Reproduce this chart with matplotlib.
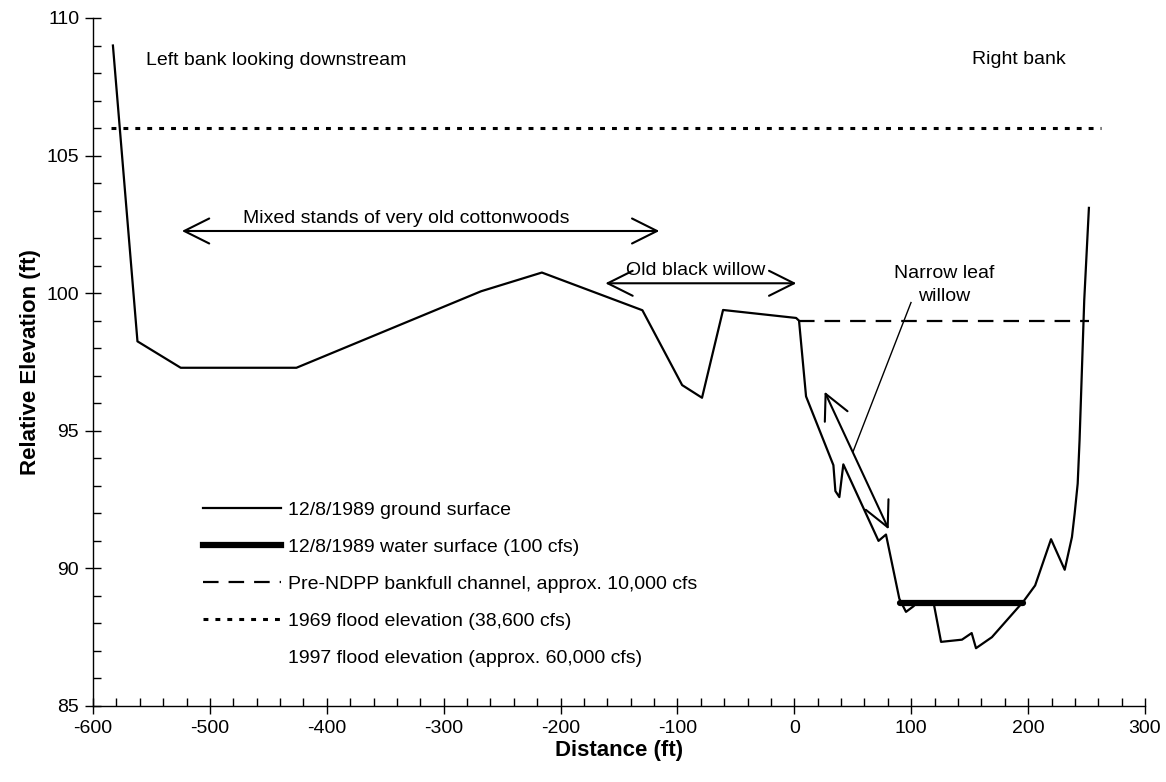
import matplotlib
matplotlib.use("Agg")
import matplotlib.pyplot as plt
from matplotlib.lines import Line2D
from matplotlib.ticker import MultipleLocator

plt.rcParams['font.family'] = ['Liberation Sans', 'DejaVu Sans']
plt.rcParams['axes.unicode_minus'] = False

# ground surface profile, 12/8/1989
dist = [-583, -562, -525, -426, -268, -216, -130, -96, -79, -61, 1.5, 4, 10,
        33.4, 35.1, 38.5, 41.9, 72, 78.4, 89.8, 95.5, 101.8, 106, 119, 125.5,
        143.4, 151.7, 155.4, 169, 196, 206, 219.6, 231.3, 237.5, 239.8, 242.4,
        244, 248, 252]
elev = [109, 98.25, 97.29, 97.29, 100.07, 100.75, 99.38, 96.66, 96.2, 99.39,
        99.1, 99.0, 96.25, 93.75, 92.81, 92.59, 93.78, 91.0, 91.23, 88.9, 88.42,
        88.62, 88.8, 88.78, 87.33, 87.41, 87.65, 87.1, 87.5, 88.8, 89.38, 91.06,
        89.95, 91.14, 91.99, 93.08, 94.65, 99.74, 103.1]

water_x = [90, 196]
water_y = [88.75, 88.75]

bankfull_x = [4, 252]
bankfull_y = [99.0, 99.0]

flood69_x = [-585, 262]
flood69_y = [106.0, 106.0]

labels = ["12/8/1989 ground surface",
          "12/8/1989 water surface (100 cfs)",
          "Pre-NDPP bankfull channel, approx. 10,000 cfs",
          "1969 flood elevation (38,600 cfs)",
          "1997 flood elevation (approx. 60,000 cfs)"]

fig = plt.figure(figsize=(11.66, 7.82), dpi=100)
ax = fig.add_axes([0.0798, 0.0972, 0.9022, 0.8798])

ax.plot(dist, elev, color='k', lw=1.6)
ax.plot(water_x, water_y, color='k', lw=4.5, solid_capstyle='round')
ax.plot(bankfull_x, bankfull_y, color='k', lw=1.6, dashes=(7, 4.5))
ax.plot(flood69_x, flood69_y, color='k', lw=2.2, dashes=(1.6, 2.3))

ax.set_xlim(-600, 300)
ax.set_ylim(85, 110)
ax.xaxis.set_major_locator(MultipleLocator(100))
ax.xaxis.set_minor_locator(MultipleLocator(20))
ax.yaxis.set_major_locator(MultipleLocator(5))
ax.yaxis.set_minor_locator(MultipleLocator(1))
ax.tick_params(which='major', direction='inout', length=12, width=1, labelsize=14, pad=4)
ax.tick_params(which='minor', direction='in', length=6, width=1)
for s in ['top', 'right']:
    ax.spines[s].set_visible(False)
for s in ['left', 'bottom']:
    ax.spines[s].set_linewidth(1)

ax.set_xlabel("Distance (ft)", fontsize=16, fontweight='bold', labelpad=2)
ax.set_ylabel("Relative Elevation (ft)", fontsize=16, fontweight='bold', labelpad=4)

# text notes
ax.text(-555, 108.44, "Left bank looking downstream", fontsize=14, va='center', ha='left')
ax.text(152, 108.5, "Right bank", fontsize=14, va='center', ha='left')
ax.text(-332, 102.7, "Mixed stands of very old cottonwoods", fontsize=14, va='center', ha='center')
ax.text(-84, 100.84, "Old black willow", fontsize=14, va='center', ha='center')
ax.text(128, 100.3, "Narrow leaf\nwillow", fontsize=14, va='center', ha='center', linespacing=1.45)

arrow = dict(arrowstyle='<->, head_length=0.9, head_width=0.45', color='k', lw=1.5,
             shrinkA=0, shrinkB=0, mutation_scale=20)
ax.annotate('', xy=(-115.5, 102.26), xytext=(-524, 102.26), arrowprops=arrow)
ax.annotate('', xy=(1.7, 100.36), xytext=(-161.7, 100.36), arrowprops=arrow)
ax.annotate('', xy=(80.7, 91.42), xytext=(25.9, 96.42), arrowprops=arrow)
ax.plot([99.8, 50.2], [99.66, 94.24], color='k', lw=1)

handles = [Line2D([], [], color='k', lw=1.6),
           Line2D([], [], color='k', lw=4.5),
           Line2D([], [], color='k', lw=1.6, dashes=(7, 4.5)),
           Line2D([], [], color='k', lw=2.2, dashes=(1.6, 2.3)),
           Line2D([], [], color='none')]
ax.legend(handles, labels, loc='upper left', bbox_to_anchor=(0.1046, 0.298),
          frameon=False, fontsize=14, handlelength=4.0, handletextpad=0.35,
          labelspacing=1.0, borderpad=0, borderaxespad=0)

fig.savefig("out.png", dpi=100)
